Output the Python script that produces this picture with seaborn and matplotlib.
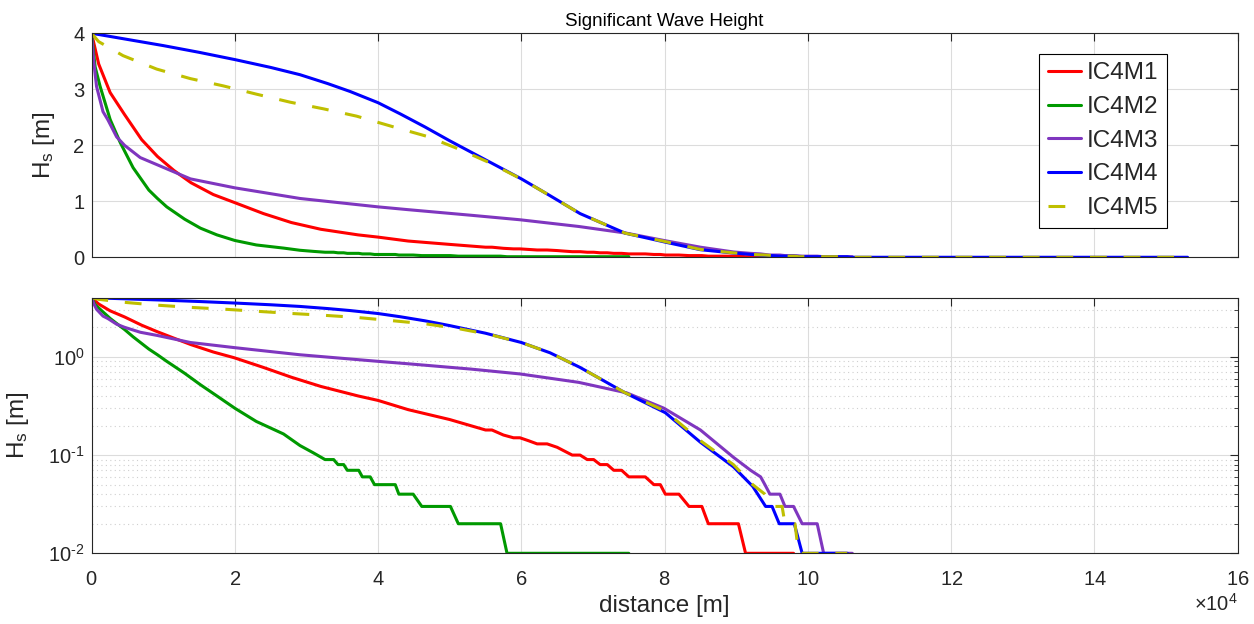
import matplotlib
matplotlib.use("Agg")
import matplotlib.pyplot as plt
import matplotlib.ticker as mticker
import numpy as np
import pandas as pd
import seaborn as sns

# distance in units of 1e4 m, Hs in m
ic4m1_x = [0, 0.1, 0.26, 0.46, 0.7, 0.92, 1.15, 1.39, 1.7, 1.99, 2.4, 2.79, 3.2, 3.72, 4.0, 4.42,
           5.0, 5.5, 5.59, 5.75, 5.89, 5.98, 6.1, 6.22, 6.36, 6.5, 6.6, 6.71, 6.82, 6.92, 7.01,
           7.10, 7.20, 7.29, 7.40, 7.50, 7.73, 7.85, 7.94, 8.01, 8.20, 8.34, 8.52, 8.61, 9.03,
           9.13, 9.80]
ic4m1_hs = [4.0, 3.45, 2.94, 2.55, 2.1, 1.8, 1.55, 1.33, 1.12, 0.98, 0.78, 0.62, 0.5, 0.40, 0.36,
            0.29, 0.23, 0.18, 0.18, 0.16, 0.15, 0.15, 0.14, 0.13, 0.13, 0.12, 0.11, 0.10, 0.10,
            0.09, 0.09, 0.08, 0.08, 0.07, 0.07, 0.06, 0.06, 0.05, 0.05, 0.04, 0.04, 0.03, 0.03,
            0.02, 0.02, 0.01, 0.01]

ic4m2_x = [0, 0.05, 0.12, 0.26, 0.4, 0.46, 0.58, 0.8, 0.92, 1.05, 1.3, 1.52, 1.75, 2.0, 2.3, 2.68,
           2.91, 3.1, 3.26, 3.38, 3.44, 3.52, 3.57, 3.73, 3.78, 3.89, 3.95, 4.24, 4.29, 4.49,
           4.61, 5.01, 5.12, 5.71, 5.80, 7.50]
ic4m2_hs = [4.0, 3.4, 3.05, 2.46, 2.05, 1.9, 1.6, 1.2, 1.05, 0.9, 0.68, 0.52, 0.4, 0.30, 0.22,
            0.164, 0.125, 0.105, 0.09, 0.09, 0.08, 0.08, 0.07, 0.07, 0.06, 0.06, 0.05, 0.05,
            0.04, 0.04, 0.03, 0.03, 0.02, 0.02, 0.01, 0.01]

ic4m3_x = [0, 0.03, 0.07, 0.16, 0.23, 0.35, 0.46, 0.68, 0.92, 1.38, 2.0, 2.91, 4.0, 4.42, 5.3,
           5.98, 6.8, 7.47, 7.99, 8.5, 8.96, 9.2, 9.34, 9.4, 9.47, 9.61, 9.68, 9.80, 9.92,
           10.13, 10.22, 10.62]
ic4m3_hs = [4.0, 3.5, 3.05, 2.6, 2.45, 2.15, 2.0, 1.78, 1.65, 1.40, 1.24, 1.05, 0.9, 0.85, 0.75,
            0.67, 0.55, 0.43, 0.30, 0.18, 0.095, 0.07, 0.06, 0.05, 0.04, 0.04, 0.03, 0.03, 0.02,
            0.02, 0.01, 0.01]

ic4m4_x = [0, 0.5, 1.0, 1.5, 2.0, 2.5, 2.91, 3.3, 3.61, 4.0, 4.31, 4.65, 5.0, 5.5, 6.0, 6.4,
           6.82, 7.45, 8.01, 8.5, 8.96, 9.23, 9.41, 9.5, 9.6, 9.81, 9.92, 10.55, 10.6, 15.3]
ic4m4_hs = [4.0, 3.89, 3.78, 3.66, 3.53, 3.39, 3.26, 3.10, 2.96, 2.76, 2.56, 2.33, 2.08, 1.74,
            1.40, 1.1, 0.78, 0.43, 0.27, 0.135, 0.076, 0.048, 0.03, 0.03, 0.02, 0.02, 0.01, 0.01,
            0, 0]

ic4m5_x = [0, 0.1, 0.44, 0.91, 1.38, 1.84, 2.31, 2.77, 3.24, 3.70, 4.21, 4.68, 5.15, 5.57, 6.01,
           6.4, 6.82, 7.45, 8.01, 8.5, 8.96, 9.23, 9.4, 9.52, 9.64, 9.68, 9.82, 9.87, 10.55,
           10.6, 15.3]
ic4m5_hs = [4.0, 3.85, 3.60, 3.36, 3.19, 3.06, 2.91, 2.77, 2.65, 2.52, 2.33, 2.16, 1.92, 1.68,
            1.39, 1.1, 0.78, 0.43, 0.28, 0.14, 0.08, 0.05, 0.04, 0.03, 0.03, 0.02, 0.02, 0.01,
            0.01, 0, 0]

cases = ["IC4M1", "IC4M2", "IC4M3", "IC4M4", "IC4M5"]
palette = {"IC4M1": "#FF0000", "IC4M2": "#009900", "IC4M3": "#7F36BF",
           "IC4M4": "#0000FF", "IC4M5": "#BFBF00"}
dashes = {"IC4M1": "", "IC4M2": "", "IC4M3": "", "IC4M4": "", "IC4M5": (5.5, 5.5)}

xs = [ic4m1_x, ic4m2_x, ic4m3_x, ic4m4_x, ic4m5_x]
ys = [ic4m1_hs, ic4m2_hs, ic4m3_hs, ic4m4_hs, ic4m5_hs]
df = pd.concat(
    [pd.DataFrame({"distance": np.array(x) * 1e4, "hs": y, "case": c})
     for x, y, c in zip(xs, ys, cases)],
    ignore_index=True,
)

sns.set_theme(style="white")
plt.rcParams["font.family"] = ["Liberation Sans", "DejaVu Sans"]
plt.rcParams["mathtext.fontset"] = "custom"
plt.rcParams["mathtext.rm"] = "Liberation Sans"
plt.rcParams["mathtext.it"] = "Liberation Sans:italic"
plt.rcParams["axes.unicode_minus"] = False


def log_label(v, pos):
    # MATLAB-style 10^-n labels with a plain hyphen
    e = int(round(np.log10(v)))
    exp = str(e).replace("-", r"\text{-}")
    return rf"$\mathdefault{{10^{{{exp}}}}}$"


dark = "#262626"
fig = plt.figure(figsize=(12.54, 6.24), dpi=100)
ax1 = fig.add_axes([0.073, 0.5877, 0.914, 0.359])
ax2 = fig.add_axes([0.073, 0.1133, 0.914, 0.4096])

for ax, sub in [(ax1, df), (ax2, df[df["hs"] > 0])]:
    sns.lineplot(data=sub, x="distance", y="hs", hue="case", style="case",
                 palette=palette, dashes=dashes, hue_order=cases, style_order=cases,
                 estimator=None, sort=False, linewidth=2.2, ax=ax, legend=(ax is ax1))

ax2.set_yscale("log", nonpositive="mask")

for ax in (ax1, ax2):
    ax.set_xlim(0, 160000)
    ax.xaxis.set_major_locator(mticker.MultipleLocator(20000))
    fmt = mticker.ScalarFormatter(useMathText=True)
    fmt.set_powerlimits((4, 4))
    ax.xaxis.set_major_formatter(fmt)
    ax.grid(True, which="major", color="#dcdcdc", linewidth=0.8)
    ax.tick_params(which="both", direction="in", top=True, right=True, colors=dark,
                   labelsize=14.5, labelcolor=dark)
    ax.tick_params(which="major", length=6, width=0.8)
    ax.tick_params(which="minor", length=3, width=0.6)
    ax.tick_params(axis="x", pad=12)
    ax.tick_params(axis="y", pad=5)
    for s in ax.spines.values():
        s.set_color(dark)
        s.set_linewidth(0.8)
    ax.set_ylabel("H$_\\mathrm{s}$ [m]", fontsize=17.5, color=dark, labelpad=12)
    ax.set_xlabel("")

ax1.set_ylim(0, 4)
ax1.yaxis.set_major_locator(mticker.MultipleLocator(1))
ax1.tick_params(labelbottom=False)
ax1.xaxis.get_offset_text().set_visible(False)
ax1.set_title("Significant Wave Height", fontsize=13.5, color="black", pad=5)

ax2.set_ylim(0.01, 4)
ax2.yaxis.set_major_formatter(mticker.FuncFormatter(log_label))
ax2.yaxis.set_minor_locator(mticker.LogLocator(base=10, subs=np.arange(2, 10)))
ax2.yaxis.set_minor_formatter(mticker.NullFormatter())
ax2.grid(True, which="minor", axis="y", color="#cfcfcf", linestyle=(0, (1, 3)), linewidth=0.8)
ax2.set_xlabel("distance [m]", fontsize=17.5, color=dark, labelpad=4)
ax2.xaxis.get_offset_text().set_fontsize(14.5)
ax2.xaxis.get_offset_text().set_color(dark)

leg = ax1.legend(loc="upper right", bbox_to_anchor=(0.938, 0.908), fontsize=17.5, frameon=True,
                 fancybox=False, edgecolor="black", framealpha=1, handlelength=1.35,
                 handletextpad=0.25, labelspacing=0.48, borderpad=0.35, borderaxespad=0)
leg.get_frame().set_linewidth(0.8)

fig.savefig("out.png", dpi=100)
